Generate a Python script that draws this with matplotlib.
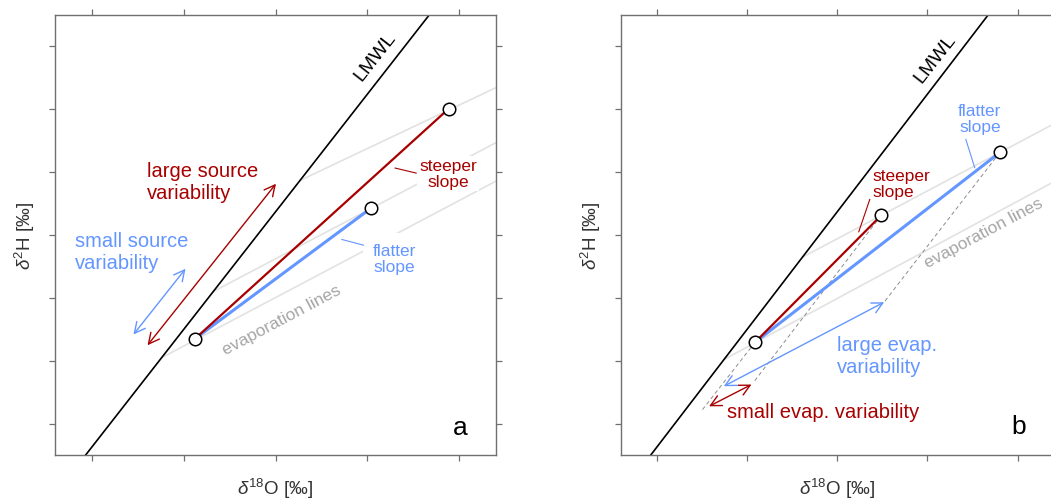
import matplotlib
matplotlib.use("Agg")
import matplotlib.pyplot as plt

matplotlib.rcParams.update({
    "font.family": ["Liberation Sans", "DejaVu Sans"], "font.size": 12,
    "mathtext.fontset": "custom", "mathtext.rm": "Liberation Sans",
    "mathtext.it": "Liberation Sans:italic",
    "figure.dpi": 100,
})

RED = "#A80000"
BLUE = "#6496FF"
EVAP_GRAY = "#E2E2E2"
TEXT_GRAY = "#A6A6A6"
FRAME = "#707070"

# axis frame (arbitrary units, no tick labels)
XLIM, YLIM = (-0.4, 4.4), (-0.5, 6.5)
XTICKS = [0, 1, 2, 3, 4]
YTICKS = [0, 1, 2, 3, 4, 5, 6]

# local meteoric water line (end points, clipped by the axes)
LMWL_X = [-0.20, 3.80]
LMWL_Y = [-0.750, 6.738]

# ── panel a: source variability ──
A_SOURCE = (1.123, 1.349)
A_STEEP_END = (3.887, 5.011)
A_FLAT_END = (3.037, 3.424)
A_EVAP_X = [[2.267, 4.45], [1.322, 4.45], [0.760, 4.45]]
A_EVAP_Y = [[3.868, 5.379], [2.099, 4.508], [1.047, 3.896]]
A_ARROW_LARGE = [(0.607, 1.246), (2.005, 3.815)]
A_ARROW_SMALL = [(0.454, 1.417), (1.021, 2.463)]
A_LEAD_STEEP = [(3.302, 4.065), (3.531, 3.985)]
A_LEAD_FLAT = [(2.722, 2.929), (2.957, 2.838)]

# ── panel b: evaporation variability ──
B_SOURCE = (1.090, 1.294)
B_STEEP_END = (2.487, 3.311)
B_FLAT_END = (3.803, 4.313)
B_EVAP_X = [[1.615, 4.45], [0.745, 4.45]]
B_EVAP_Y = [[2.647, 4.805], [1.019, 3.885]]
B_DASH = [[(1.090, 1.294), (0.507, 0.223)],
          [(2.487, 3.311), (1.068, 0.648)],
          [(3.803, 4.313), (2.520, 1.931)]]
B_ARROW_SMALL = [(0.580, 0.275), (1.050, 0.621)]
B_ARROW_LARGE = [(0.743, 0.594), (2.520, 1.931)]
B_LEAD_STEEP = [(2.361, 3.565), (2.239, 3.051)]
B_LEAD_FLAT = [(3.426, 4.520), (3.525, 4.070)]

FW, FH = 1051, 502


def setup(ax):
    ax.set_xlim(*XLIM); ax.set_ylim(*YLIM)
    ax.set_xticks(XTICKS); ax.set_yticks(YTICKS)
    ax.tick_params(direction="out", length=4, width=0.9, color=FRAME,
                   top=True, right=True, labelbottom=False, labelleft=False)
    for s in ax.spines.values():
        s.set_color(FRAME); s.set_linewidth(1.0)
    ax.set_xlabel(r"$\delta^{18}$O [‰]", color="#333333", fontsize=13.5, labelpad=11)
    ax.set_ylabel(r"$\delta^{2}$H [‰]", color="#333333", fontsize=13.5, labelpad=9)
    ax.plot(LMWL_X, LMWL_Y, color="black", lw=1.2, zorder=2)


def arrow(ax, pts, color):
    ax.annotate("", xy=pts[1], xytext=pts[0],
                arrowprops=dict(arrowstyle="<->,head_length=0.55,head_width=0.28",
                                color=color, lw=1.0, shrinkA=0, shrinkB=0,
                                mutation_scale=14), zorder=3)


def seg(ax, pts, color, lw, **kw):
    ax.plot([pts[0][0], pts[1][0]], [pts[0][1], pts[1][1]], color=color, lw=lw, **kw)


def circles(ax, pts):
    ax.plot([p[0] for p in pts], [p[1] for p in pts], "o", ms=9, mfc="white",
            mec="black", mew=1.1, zorder=6)


def panel_a(ax):
    setup(ax)
    for xs, ys in zip(A_EVAP_X, A_EVAP_Y):
        ax.plot(xs, ys, color=EVAP_GRAY, lw=1.2, zorder=1)
    seg(ax, [A_SOURCE, A_FLAT_END], BLUE, 2.2, zorder=4, solid_capstyle="butt")
    seg(ax, [A_SOURCE, A_STEEP_END], RED, 1.6, zorder=5, solid_capstyle="butt")
    circles(ax, [A_SOURCE, A_STEEP_END, A_FLAT_END])
    arrow(ax, A_ARROW_LARGE, RED)
    arrow(ax, A_ARROW_SMALL, BLUE)
    seg(ax, A_LEAD_STEEP, RED, 0.8, zorder=5)
    seg(ax, A_LEAD_FLAT, BLUE, 0.8, zorder=5)
    ax.text(0.596, 3.852, "large source\nvariability", color=RED, fontsize=14.5,
            ha="left", va="center", linespacing=1.15)
    ax.text(-0.185, 2.738, "small source\nvariability", color=BLUE, fontsize=14.5,
            ha="left", va="center", linespacing=1.15)
    ax.text(3.878, 3.979, "steeper\nslope", color=RED, fontsize=12.5, ha="center",
            va="center", multialignment="center", linespacing=1.05, zorder=3,
            bbox=dict(fc="white", ec="none", pad=1.5))
    ax.text(3.295, 2.626, "flatter\nslope", color=BLUE, fontsize=12.5, ha="center",
            va="center", multialignment="center", linespacing=1.05, zorder=3,
            bbox=dict(fc="white", ec="none", pad=7))
    ax.text(2.067, 1.655, "evaporation lines", color=TEXT_GRAY, fontsize=12.5,
            rotation=28, rotation_mode="anchor", ha="center", va="center")
    ax.text(3.084, 5.846, "LMWL", color="black", fontsize=14, rotation=52,
            rotation_mode="anchor", ha="center", va="center")
    ax.text(4.011, -0.059, "a", fontsize=19, ha="center", va="center")


def panel_b(ax):
    setup(ax)
    for xs, ys in zip(B_EVAP_X, B_EVAP_Y):
        ax.plot(xs, ys, color=EVAP_GRAY, lw=1.2, zorder=1)
    for d in B_DASH:
        seg(ax, d, "#8C8C8C", 0.7, ls=(0, (4, 3)), zorder=2)
    seg(ax, [B_SOURCE, B_FLAT_END], BLUE, 2.2, zorder=4, solid_capstyle="butt")
    seg(ax, [B_SOURCE, B_STEEP_END], RED, 1.6, zorder=5, solid_capstyle="butt")
    circles(ax, [B_SOURCE, B_STEEP_END, B_FLAT_END])
    arrow(ax, B_ARROW_SMALL, RED)
    arrow(ax, B_ARROW_LARGE, BLUE)
    seg(ax, B_LEAD_STEEP, RED, 0.8, zorder=5)
    seg(ax, B_LEAD_FLAT, BLUE, 0.8, zorder=5)
    ax.text(2.391, 3.82, "steeper\nslope", color=RED, fontsize=12.5, ha="left",
            va="center", linespacing=1.05)
    ax.text(3.581, 4.849, "flatter\nslope", color=BLUE, fontsize=12.5, ha="center",
            va="center", multialignment="center", linespacing=1.05)
    ax.text(2.0, 1.082, "large evap.\nvariability", color=BLUE, fontsize=14.5,
            ha="left", va="center", linespacing=1.15)
    ax.text(0.773, 0.185, "small evap. variability", color=RED, fontsize=14.5,
            ha="left", va="center")
    ax.text(3.619, 3.035, "evaporation lines", color=TEXT_GRAY, fontsize=12.5,
            rotation=28, rotation_mode="anchor", ha="center", va="center")
    ax.text(3.082, 5.82, "LMWL", color="black", fontsize=14, rotation=52,
            rotation_mode="anchor", ha="center", va="center")
    ax.text(4.013, -0.043, "b", fontsize=19, ha="center", va="center")


fig = plt.figure(figsize=(FW / 100, FH / 100), dpi=100)
ax_a = fig.add_axes([55 / FW, 46 / FH, 441 / FW, 440 / FH])
ax_b = fig.add_axes([620.7 / FW, 46 / FH, 433 / FW, 440 / FH])
panel_a(ax_a)
panel_b(ax_b)
fig.savefig("out.png", dpi=100)
